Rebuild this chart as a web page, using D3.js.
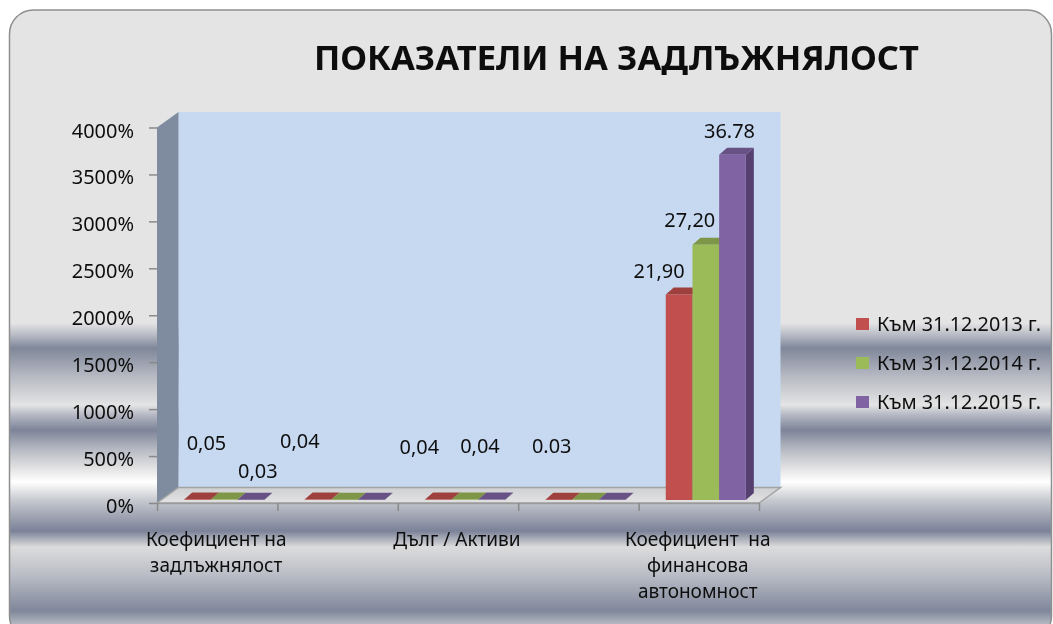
<!DOCTYPE html>
<html>
<head>
<meta charset="utf-8">
<script src="https://cdn.jsdelivr.net/npm/d3@7"></script>
<style>
  html, body { margin: 0; padding: 0; background: #fff; }
  svg { display: block; }
  text { font-family: "Noto Sans", sans-serif; fill: #111; white-space: pre; }
</style>
</head>
<body>
<div id="chart"></div>
<script>
const chartTitle = "ПОКАЗАТЕЛИ НА ЗАДЛЪЖНЯЛОСТ";
const categories = ["Коефициент на задлъжнялост", "Кат. 2", "Дълг / Активи", "Кат. 4", "Коефициент  на финансова автономност"];
const categoryLines = [["Коефициент на", "задлъжнялост"], [], ["Дълг / Активи"], [], ["Коефициент  на", "финансова", "автономност"]];
const seriesNames = ["Към 31.12.2013 г.", "Към 31.12.2014 г.", "Към 31.12.2015 г."];
const values2013 = [0.05, 0.04, 0.04, 0.03, 21.90];
const values2014 = [0.04, 0.03, 0.04, 0.03, 27.20];
const values2015 = [0.03, 0.03, 0.04, 0.03, 36.78];
const yTicks = [0, 500, 1000, 1500, 2000, 2500, 3000, 3500, 4000];

// labels were moved by hand in the original, so each has a nudge from its bar top
const labelTexts = ["0,05", "0,03", "0,04", "0,04", "0,04", "0.03", "21,90", "27,20", "36.78"];
const labelSeries = [0, 2, 0, 0, 1, 0, 0, 1, 2];
const labelCats = [0, 0, 1, 2, 2, 3, 4, 4, 4];
const labelNudges = [[9, -50], [7, -22], [-18, -52], [-19, -46], [15, -47], [-7, -47], [-20, -16], [-16, -18], [-3, -17]];

const colorsFront = ["#c0504d", "#9bbb59", "#8064a2"];
const colorsTop = ["#9e403d", "#7e9647", "#675184"];
const colorsSide = ["#8a3634", "#6d833e", "#563f70"];

const seriesValues = [values2013, values2014, values2015];
const width = 1053, height = 624;

const svg = d3.select("#chart").append("svg")
    .attr("width", width)
    .attr("height", height);

const defs = svg.append("defs");

// banded background of the slide panel
const bgStops = [
    [0, "#e4e4e4"], [323, "#e4e4e4"], [335, "#b8bbc5"], [348, "#7f8799"], [375, "#b4b7c1"], [405, "#e4e4e4"],
    [415, "#b5b8c3"], [430, "#7d8499"], [450, "#b8bbc4"], [470, "#e6e6e6"], [482, "#ffffff"], [500, "#c8cad0"],
    [531, "#7b8298"], [547, "#dcdcdc"], [575, "#babdc6"], [611, "#7f879a"], [624, "#b5b8c2"]
];
const bg = defs.append("linearGradient").attr("id", "panelBg")
    .attr("gradientUnits", "userSpaceOnUse")
    .attr("x1", 0).attr("y1", 0).attr("x2", 0).attr("y2", height);
bgStops.forEach(([y, c]) => bg.append("stop").attr("offset", y / height).attr("stop-color", c));

defs.append("filter").attr("id", "soft")
    .append("feGaussianBlur").attr("stdDeviation", 0.45);

svg.append("rect")
    .attr("x", 9.5).attr("y", 10)
    .attr("width", 1042).attr("height", 630)
    .attr("rx", 24)
    .attr("fill", "url(#panelBg)")
    .attr("stroke", "#8f8f8f")
    .attr("stroke-width", 1.5);

const root = svg.append("g").attr("filter", "url(#soft)");

// scales, the front plane of the 3D box
const xLeft = 157, xRight = 759, yBase = 503, yTop = 127.5;
const depthX = 21.5, depthY = -15.5;
const x = d3.scaleBand().domain(categories).range([xLeft, xRight]).paddingInner(0.335).paddingOuter(0.1675);
const xSeries = d3.scaleBand().domain(d3.range(seriesNames.length)).range([0, x.bandwidth()]);
const xTicks = d3.scaleLinear().domain([0, categories.length]).range([xLeft, xRight]);
const y = d3.scaleLinear().domain([0, 4000]).range([yBase, yTop]);

const pts = a => a.map(p => p.join(",")).join(" ");

// walls and floor
root.append("polygon")
    .attr("points", pts([[xLeft + depthX, yTop + depthY], [xRight + depthX, yTop + depthY], [xRight + depthX, yBase + depthY], [xLeft + depthX, yBase + depthY]]))
    .attr("fill", "#c6d9f1");
root.append("polygon")
    .attr("points", pts([[xLeft, yTop], [xLeft + depthX, yTop + depthY], [xLeft + depthX, yBase + depthY], [xLeft, yBase]]))
    .attr("fill", "#7f8ca0");

const floorGrad = defs.append("linearGradient").attr("id", "floorBg").attr("x1", 0).attr("y1", 0).attr("x2", 0).attr("y2", 1);
floorGrad.append("stop").attr("offset", 0).attr("stop-color", "#cfd0d3");
floorGrad.append("stop").attr("offset", 1).attr("stop-color", "#e2e2e3");
root.append("polygon")
    .attr("points", pts([[xLeft, yBase], [xLeft + depthX, yBase + depthY], [xRight + depthX, yBase + depthY], [xRight, yBase]]))
    .attr("fill", "url(#floorBg)")
    .attr("stroke", "#a3a3a3")
    .attr("stroke-width", 1.5);

// axes
const yAxis = d3.axisLeft(y).tickValues(yTicks).tickFormat(d => d + "%").tickSize(8).tickSizeOuter(0);
const yG = root.append("g").attr("transform", `translate(${xLeft},0)`).call(yAxis);
yG.select(".domain").remove();
yG.selectAll(".tick line").attr("stroke", "#8a8a8a").attr("stroke-width", 1.5);
yG.selectAll(".tick text")
    .attr("x", -23).attr("dy", "0.5em")
    .style("font-family", '"Noto Sans", sans-serif')
    .style("font-size", "19px")
    .attr("fill", "#111");

const xAxis = d3.axisBottom(xTicks).tickValues(d3.range(categories.length + 1)).tickFormat("").tickSize(8).tickSizeOuter(0);
const xG = root.append("g").attr("transform", `translate(0,${yBase})`).call(xAxis);
xG.select(".domain").attr("stroke", "#9a9a9a").attr("stroke-width", 1.5);
xG.selectAll(".tick line").attr("stroke", "#8a8a8a").attr("stroke-width", 1.5);

// bars, shifted in from the front plane
const inX = 7, inY = -3, barDx = 8, barDy = -7;
const bars = [];
seriesNames.forEach((s, si) => categories.forEach((c, ci) => bars.push({ si, ci, v: seriesValues[si][ci] * 100 })));
const barG = root.append("g").selectAll("g").data(bars).enter().append("g");
const bx0 = d => x(categories[d.ci]) + inX + xSeries(d.si);
const bx1 = d => bx0(d) + xSeries.bandwidth();
const by = d => y(d.v) + inY;
const by0 = yBase + inY;

barG.append("polygon").attr("fill", d => colorsSide[d.si])
    .attr("points", d => pts([[bx1(d), by(d)], [bx1(d) + barDx, by(d) + barDy], [bx1(d) + barDx, by0 + barDy], [bx1(d), by0]]));
barG.append("polygon").attr("fill", d => colorsTop[d.si])
    .attr("points", d => pts([[bx0(d), by(d)], [bx0(d) + barDx, by(d) + barDy], [bx1(d) + barDx, by(d) + barDy], [bx1(d), by(d)]]));
barG.append("rect").attr("fill", d => colorsFront[d.si])
    .attr("x", bx0).attr("y", by)
    .attr("width", xSeries.bandwidth())
    .attr("height", d => by0 - by(d));

// stretch helper, the source text is wider than any installed font
function stretch(sel, k) {
    sel.each(function() {
        d3.select(this).attr("textLength", this.getComputedTextLength() * k).attr("lengthAdjust", "spacingAndGlyphs");
    });
}
stretch(yG.selectAll(".tick text"), 1.05);

// data labels
const labels = root.append("g").selectAll("text").data(labelTexts).enter().append("text")
    .attr("x", (d, i) => x(categories[labelCats[i]]) + inX + xSeries(labelSeries[i]) + xSeries.bandwidth() / 2 + labelNudges[i][0])
    .attr("y", (d, i) => y(seriesValues[labelSeries[i]][labelCats[i]] * 100) + inY + labelNudges[i][1])
    .attr("text-anchor", "middle")
    .style("font-size", "19px")
    .text(d => d);
stretch(labels, 1.05);

// category labels
categoryLines.forEach((lines, ci) => {
    const t = root.append("g").selectAll("text").data(lines).enter().append("text")
        .attr("x", x(categories[ci]) + x.bandwidth() / 2 - 1)
        .attr("y", (d, i) => 546 + i * 26)
        .attr("text-anchor", "middle")
        .style("font-size", "19px")
        .text(d => d);
    stretch(t, 1.0);
});

// legend
const legendY = d3.scalePoint().domain(seriesNames).range([324, 402]);
const legend = root.append("g").selectAll("g").data(seriesNames).enter().append("g")
    .attr("transform", d => `translate(856,${legendY(d)})`);
legend.append("rect").attr("x", 0).attr("y", -6).attr("width", 13).attr("height", 12)
    .attr("fill", (d, i) => colorsFront[i]);
const legendText = legend.append("text").attr("x", 21).attr("y", 7)
    .style("font-size", "19px").text(d => d);
stretch(legendText, 1.04);

// title
const title = root.append("text")
    .attr("x", 314).attr("y", 70)
    .style("font-size", "34px").style("font-weight", 700)
    .text(chartTitle);
title.attr("textLength", 605).attr("lengthAdjust", "spacingAndGlyphs");
</script>
</body>
</html>
